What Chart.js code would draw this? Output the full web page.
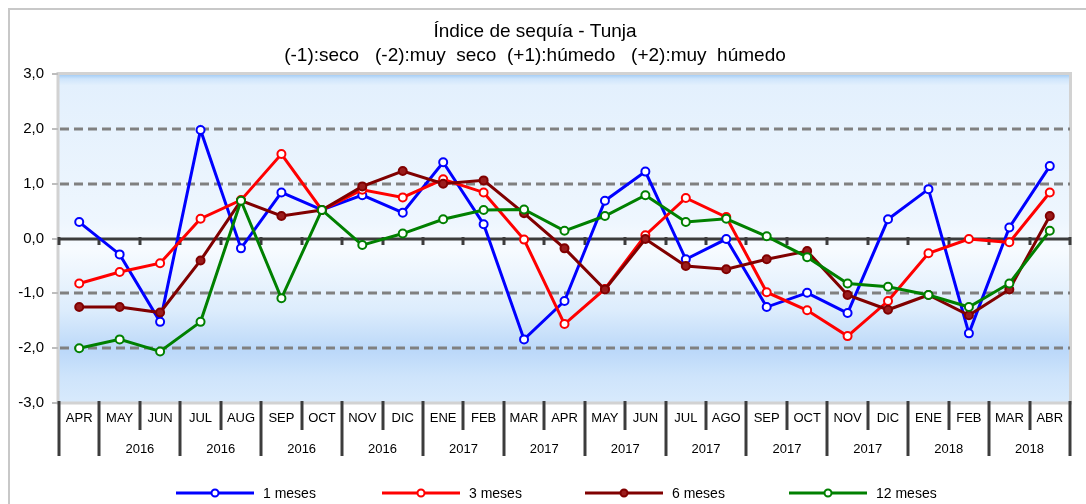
<!DOCTYPE html>
<html><head><meta charset="utf-8">
<script src="https://cdn.jsdelivr.net/npm/chart.js@4.4.0/dist/chart.umd.min.js"></script>
<style>html,body{margin:0;padding:0;background:#fff;}#wrap{width:1086px;height:504px;position:relative}</style>
</head><body><div id="wrap"><canvas id="c" width="1086" height="504"></canvas></div>
<script>
// ---- data ----
const months = ['APR','MAY','JUN','JUL','AUG','SEP','OCT','NOV','DIC','ENE','FEB','MAR','APR','MAY','JUN','JUL','AGO','SEP','OCT','NOV','DIC','ENE','FEB','MAR','ABR'];
const yearGroups = ['2016','2016','2016','2016','2017','2017','2017','2017','2017','2017','2018','2018'];
const meses1 = [0.30,-0.29,-1.52,1.98,-0.18,0.84,0.52,0.79,0.47,1.39,0.26,-1.84,-1.14,0.69,1.22,-0.38,-0.01,-1.25,-0.99,-1.36,0.35,0.90,-1.73,0.20,1.32];
const meses3 = [-0.82,-0.61,-0.45,0.36,0.70,1.54,0.52,0.89,0.75,1.08,0.84,-0.02,-1.56,-0.92,0.06,0.74,0.39,-0.98,-1.31,-1.78,-1.14,-0.27,-0.01,-0.07,0.84];
const meses6 = [-1.25,-1.25,-1.35,-0.40,0.69,0.41,0.52,0.95,1.23,1.00,1.06,0.46,-0.18,-0.93,-0.01,-0.50,-0.56,-0.38,-0.23,-1.03,-1.30,-1.03,-1.40,-0.93,0.41];
const meses12 = [-2.00,-1.84,-2.06,-1.52,0.69,-1.09,0.52,-0.12,0.09,0.35,0.52,0.53,0.14,0.41,0.79,0.30,0.36,0.04,-0.34,-0.82,-0.88,-1.03,-1.25,-0.82,0.14];
const seriesNames = ['1 meses','3 meses','6 meses','12 meses'];
const titleLines = ['Índice de sequía - Tunja','(-1):seco   (-2):muy  seco  (+1):húmedo   (+2):muy  húmedo'];
const dashedLevels = [-2,-1,1,2];

const FONT = '"Liberation Sans", Arial, sans-serif';
const colors = ['#0000ff','#ff0000','#800000','#008000'];

const decorPlugin = {
  id: 'decor',
  beforeDraw(chart) {
    const {ctx, chartArea: a} = chart;
    ctx.save();
    ctx.fillStyle = '#fff';
    ctx.fillRect(0,0,chart.width,chart.height);
    // outer frame
    ctx.strokeStyle = '#c8c8c8';
    ctx.lineWidth = 2;
    ctx.beginPath();
    ctx.moveTo(9, chart.height + 5); ctx.lineTo(9, 9); ctx.lineTo(chart.width + 5, 9);
    ctx.stroke();
    // plot background gradient
    const g = ctx.createLinearGradient(0, a.top, 0, a.bottom);
    g.addColorStop(0, '#9cc8f4');
    g.addColorStop(0.015, '#cfe5fb');
    g.addColorStop(0.035, '#e3f0fd');
    g.addColorStop(0.45, '#eef6fe');
    g.addColorStop(0.53, '#f7fbff');
    g.addColorStop(0.72, '#dcecfc');
    g.addColorStop(0.84, '#bbd8f9');
    g.addColorStop(0.92, '#cee4fb');
    g.addColorStop(1, '#d8eafc');
    ctx.fillStyle = g;
    ctx.fillRect(a.left, a.top, a.right - a.left, a.bottom - a.top);
    // plot border
    ctx.strokeStyle = '#d2d2d2';
    ctx.lineWidth = 3;
    ctx.strokeRect(a.left - 1, a.top - 0.5, a.right - a.left + 1.5, a.bottom - a.top + 0.5);
    ctx.restore();
  },
  beforeDatasetsDraw(chart) {
    const {ctx, chartArea: a, scales: {x, y}} = chart;
    ctx.save();
    // y tick marks
    ctx.strokeStyle = '#bdbdbd';
    ctx.lineWidth = 2;
    for (let v = -3; v <= 3; v++) {
      const py = Math.round(y.getPixelForValue(v));
      ctx.beginPath(); ctx.moveTo(a.left - 7, py); ctx.lineTo(a.left - 1, py); ctx.stroke();
    }
    // dashed levels
    ctx.strokeStyle = '#808080';
    ctx.lineWidth = 3;
    ctx.setLineDash([9,5]);
    dashedLevels.forEach(v => {
      const py = Math.round(y.getPixelForValue(v));
      ctx.beginPath(); ctx.moveTo(a.left + 1, py); ctx.lineTo(a.right, py); ctx.stroke();
    });
    ctx.setLineDash([]);
    // zero line
    const pz = Math.round(y.getPixelForValue(0));
    ctx.strokeStyle = '#3c3c3c';
    ctx.lineWidth = 3;
    ctx.beginPath(); ctx.moveTo(a.left, pz); ctx.lineTo(a.right, pz); ctx.stroke();
    // zero-line ticks at category boundaries
    const n = months.length;
    for (let i = 0; i <= n; i++) {
      const px = Math.round(x.getPixelForValue(i - 0.5));
      ctx.beginPath(); ctx.moveTo(px, pz - 2); ctx.lineTo(px, pz + 6); ctx.stroke();
    }
    ctx.restore();
  },
  afterDraw(chart) {
    const {ctx, chartArea: a, scales: {x}} = chart;
    ctx.save();
    const n = months.length;
    ctx.strokeStyle = '#3c3c3c';
    ctx.lineWidth = 3;
    for (let i = 0; i <= n; i++) {
      const px = Math.round(x.getPixelForValue(i - 0.5));
      const long = (i === 0 || i === n || i % 2 === 1);
      ctx.beginPath(); ctx.moveTo(px, a.bottom - 2); ctx.lineTo(px, a.bottom + (long ? 53 : 27)); ctx.stroke();
    }
    // year labels
    ctx.fillStyle = '#000';
    ctx.font = '13px ' + FONT;
    ctx.textAlign = 'center';
    ctx.textBaseline = 'middle';
    yearGroups.forEach((yr, k) => {
      const px = x.getPixelForValue(2 * k + 1.5);
      ctx.fillText(yr, px, a.bottom + 46);
    });
    // legend
    const ly = 493;
    const starts = [176, 382, 585, 789];
    chart.data.datasets.forEach((ds, i) => {
      const x0 = starts[i], x1 = x0 + 78;
      ctx.strokeStyle = ds.borderColor;
      ctx.lineWidth = 3;
      ctx.beginPath(); ctx.moveTo(x0, ly); ctx.lineTo(x1, ly); ctx.stroke();
      ctx.beginPath(); ctx.arc((x0 + x1) / 2, ly, 3.5, 0, Math.PI * 2);
      ctx.fillStyle = ds.pointBackgroundColor; ctx.fill();
      ctx.lineWidth = 2; ctx.stroke();
      ctx.fillStyle = '#000';
      ctx.font = '14px ' + FONT;
      ctx.textAlign = 'left';
      ctx.fillText(ds.label, x1 + 9, ly + 1);
    });
    ctx.restore();
  }
};

const mk = (label, data, color, fill, order) => ({
  label, data, borderColor: color, backgroundColor: color,
  borderWidth: 3, tension: 0, order,
  pointRadius: 4, pointHoverRadius: 4, pointBorderWidth: 2,
  pointBackgroundColor: fill, pointBorderColor: color
});

new Chart(document.getElementById('c'), {
  type: 'line',
  data: {
    labels: months,
    datasets: [
      mk(seriesNames[0], meses1, colors[0], '#ffffff', 3),
      mk(seriesNames[1], meses3, colors[1], '#ffffff', 2),
      mk(seriesNames[2], meses6, colors[2], '#9a1c1c', 1),
      mk(seriesNames[3], meses12, colors[3], '#ffffff', 0)
    ]
  },
  options: {
    responsive: false,
    animation: false,
    devicePixelRatio: 1,
    layout: { padding: { left: 0, right: 16, top: 0, bottom: 0 } },
    plugins: {
      legend: { display: false },
      tooltip: { enabled: false },
      title: {
        display: true, text: titleLines, color: '#000',
        font: { family: FONT, size: 19, weight: 'normal', lineHeight: 1.25 },
        padding: { top: 20, bottom: 6.5 }
      }
    },
    scales: {
      x: {
        offset: true,
        grid: { display: false, drawTicks: false },
        border: { display: false },
        ticks: { color: '#000', font: { family: FONT, size: 13 }, padding: 8, maxRotation: 0, autoSkip: false },
        afterFit(s) { s.height = 101; }
      },
      y: {
        min: -3, max: 3,
        grid: { display: false, drawTicks: false },
        border: { display: false },
        ticks: {
          stepSize: 1, color: '#000', padding: 15,
          font: { family: FONT, size: 15 },
          callback: v => v.toFixed(1).replace('.', ',')
        },
        afterFit(s) { s.width = 59; }
      }
    }
  },
  plugins: [decorPlugin]
});
</script></body></html>
